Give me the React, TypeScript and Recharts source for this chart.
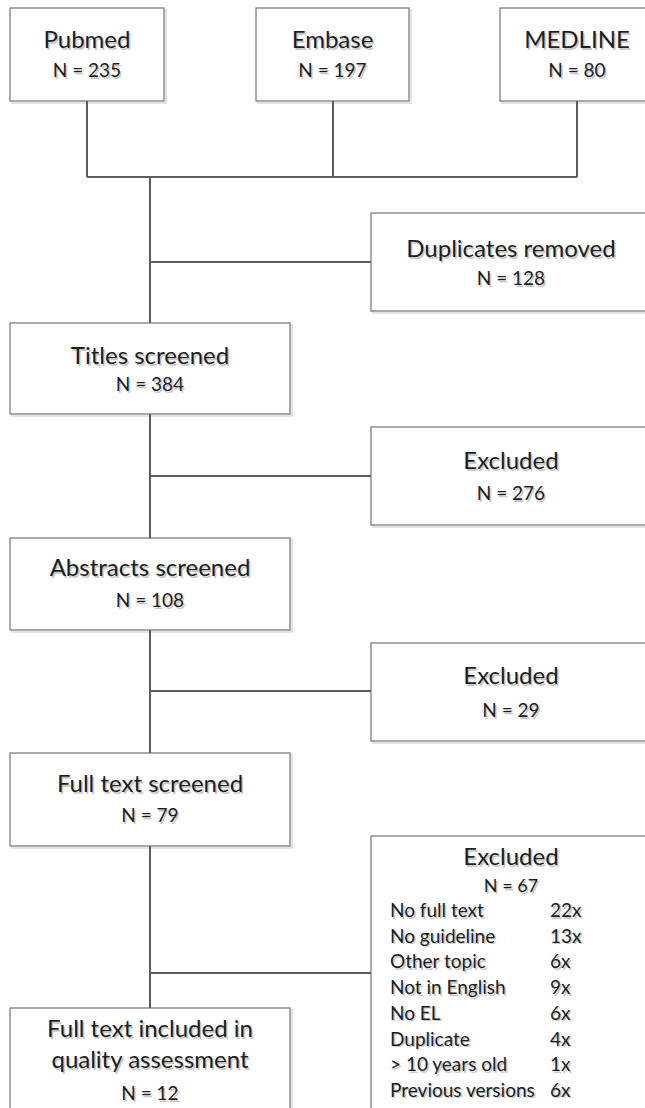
import {
  ComposedChart,
  XAxis,
  YAxis,
  Scatter,
  ReferenceArea,
  ReferenceLine,
} from "recharts";

// values
const SOURCES = ["Pubmed", "Embase", "MEDLINE"];
const SOURCE_N = [235, 197, 80];

const STAGES = [
  ["Titles screened"],
  ["Abstracts screened"],
  ["Full text screened"],
  ["Full text included in", "quality assessment"],
];
const STAGE_N = [384, 108, 79, 12];

const REMOVED = ["Duplicates removed", "Excluded", "Excluded", "Excluded"];
const REMOVED_N = [128, 276, 29, 67];

const REASONS = [
  "No full text",
  "No guideline",
  "Other topic",
  "Not in English",
  "No EL",
  "Duplicate",
  "> 10 years old",
  "Previous versions",
];
const REASON_COUNTS = [22, 13, 6, 9, 6, 4, 1, 6];

// layout, in chart units (1 unit = 1px)
const W = 645;
const H = 1108;
const SOURCE_X = [[10, 164], [256, 409], [500, 654]];
const SOURCE_Y = [8, 101];
const MERGE_Y = 177;
const TRUNK_X = 150;
const STAGE_X = [10, 290];
const STAGE_Y = [[323, 414], [538, 630], [753, 846], [1008, 1120]];
const STAGE_TEXT_Y = [[364, 391], [576, 607], [792, 822], [1037, 1068, 1100]];
const SIDE_X = [371, 655];
const SIDE_Y = [[213, 311], [427, 525], [643, 741], [836, 1120]];
const SIDE_TEXT_Y = [[257, 285], [469, 500], [684, 717], [865, 892]];
const BRANCH_Y = [262, 476, 691, 973];
const REASON_X = [390, 550];
const REASON_Y0 = 917;
const REASON_STEP = 25.7;

const FONT = "Lato, 'Open Sans', sans-serif";
const LINE = "#5c5c5c";

type TextPoint = {
  x: number;
  y: number;
  text: string;
  size: number;
  anchor: "start" | "middle" | "end";
};

const textPoints: TextPoint[] = [];
SOURCES.forEach((s, i) => {
  const cx = (SOURCE_X[i][0] + SOURCE_X[i][1]) / 2;
  textPoints.push({ x: cx, y: 48, text: s, size: 24, anchor: "middle" });
  textPoints.push({ x: cx, y: 77, text: `N = ${SOURCE_N[i]}`, size: 19, anchor: "middle" });
});
STAGES.forEach((lines, i) => {
  lines.forEach((t, j) =>
    textPoints.push({ x: TRUNK_X, y: STAGE_TEXT_Y[i][j], text: t, size: 24, anchor: "middle" }),
  );
  textPoints.push({
    x: TRUNK_X,
    y: STAGE_TEXT_Y[i][lines.length],
    text: `N = ${STAGE_N[i]}`,
    size: 19,
    anchor: "middle",
  });
});
REMOVED.forEach((t, i) => {
  textPoints.push({ x: 511, y: SIDE_TEXT_Y[i][0], text: t, size: 24, anchor: "middle" });
  textPoints.push({ x: 511, y: SIDE_TEXT_Y[i][1], text: `N = ${REMOVED_N[i]}`, size: i === 3 ? 18 : 19, anchor: "middle" });
});
REASONS.forEach((r, i) => {
  const y = REASON_Y0 + i * REASON_STEP;
  textPoints.push({ x: REASON_X[0], y, text: r, size: 19, anchor: "start" });
  textPoints.push({ x: REASON_X[1], y, text: `${REASON_COUNTS[i]}x`, size: 19, anchor: "start" });
});

const TextShape = (props: any) => {
  const { cx, cy, payload } = props;
  const common = {
    fontFamily: FONT,
    fontSize: payload.size,
    textAnchor: payload.anchor,
  };
  return (
    <g>
      <text x={cx + 1.5} y={cy + 1.5} fill="#c8c8c8" {...common}>
        {payload.text}
      </text>
      <text x={cx} y={cy} fill="#1e1e1e" {...common}>
        {payload.text}
      </text>
    </g>
  );
};

const BoxShape = (props: any) => {
  const { x, y, width, height } = props;
  return (
    <g>
      <rect x={x + 2} y={y + 2} width={width} height={height} fill="none" stroke="#e2e2e2" strokeWidth={2} />
      <rect x={x} y={y} width={width} height={height} fill="#ffffff" stroke="#7d7d7d" strokeWidth={1.3} />
    </g>
  );
};

type Box = { x1: number; x2: number; y1: number; y2: number };
const boxes: Box[] = [
  ...SOURCE_X.map(([x1, x2]) => ({ x1, x2, y1: SOURCE_Y[0], y2: SOURCE_Y[1] })),
  ...STAGE_Y.map(([y1, y2]) => ({ x1: STAGE_X[0], x2: STAGE_X[1], y1, y2 })),
  ...SIDE_Y.map(([y1, y2]) => ({ x1: SIDE_X[0], x2: SIDE_X[1], y1, y2 })),
];

type Seg = [{ x: number; y: number }, { x: number; y: number }];
const segments: Seg[] = [];
SOURCE_X.forEach(([a, b]) => {
  const cx = Math.round((a + b) / 2);
  segments.push([{ x: cx, y: SOURCE_Y[1] }, { x: cx, y: MERGE_Y }]);
});
segments.push([
  { x: Math.round((SOURCE_X[0][0] + SOURCE_X[0][1]) / 2), y: MERGE_Y },
  { x: Math.round((SOURCE_X[2][0] + SOURCE_X[2][1]) / 2), y: MERGE_Y },
]);
segments.push([{ x: TRUNK_X, y: MERGE_Y }, { x: TRUNK_X, y: STAGE_Y[0][0] }]);
for (let i = 0; i < STAGE_Y.length - 1; i++) {
  segments.push([{ x: TRUNK_X, y: STAGE_Y[i][1] }, { x: TRUNK_X, y: STAGE_Y[i + 1][0] }]);
}
BRANCH_Y.forEach((y) => segments.push([{ x: TRUNK_X, y }, { x: SIDE_X[0], y }]));

export default function App() {
  return (
    <div style={{ position: "absolute", left: 0, top: 0, background: "#fff" }}>
      <ComposedChart width={W} height={H} margin={{ top: 0, right: 0, bottom: 0, left: 0 }}>
        <XAxis type="number" dataKey="x" domain={[0, W]} hide allowDataOverflow />
        <YAxis type="number" dataKey="y" domain={[0, H]} reversed hide allowDataOverflow />
        {segments.map((s, i) => (
          <ReferenceLine key={`s${i}`} segment={s} stroke={LINE} strokeWidth={2} ifOverflow="visible" />
        ))}
        {boxes.map((b, i) => (
          <ReferenceArea
            key={`b${i}`}
            x1={b.x1}
            x2={b.x2}
            y1={b.y1}
            y2={b.y2}
            ifOverflow="hidden"
            shape={(p: any) => <BoxShape {...p} />}
          />
        ))}
        <Scatter data={textPoints} dataKey="y" isAnimationActive={false} shape={(p: any) => <TextShape {...p} />} />
      </ComposedChart>
    </div>
  );
}
